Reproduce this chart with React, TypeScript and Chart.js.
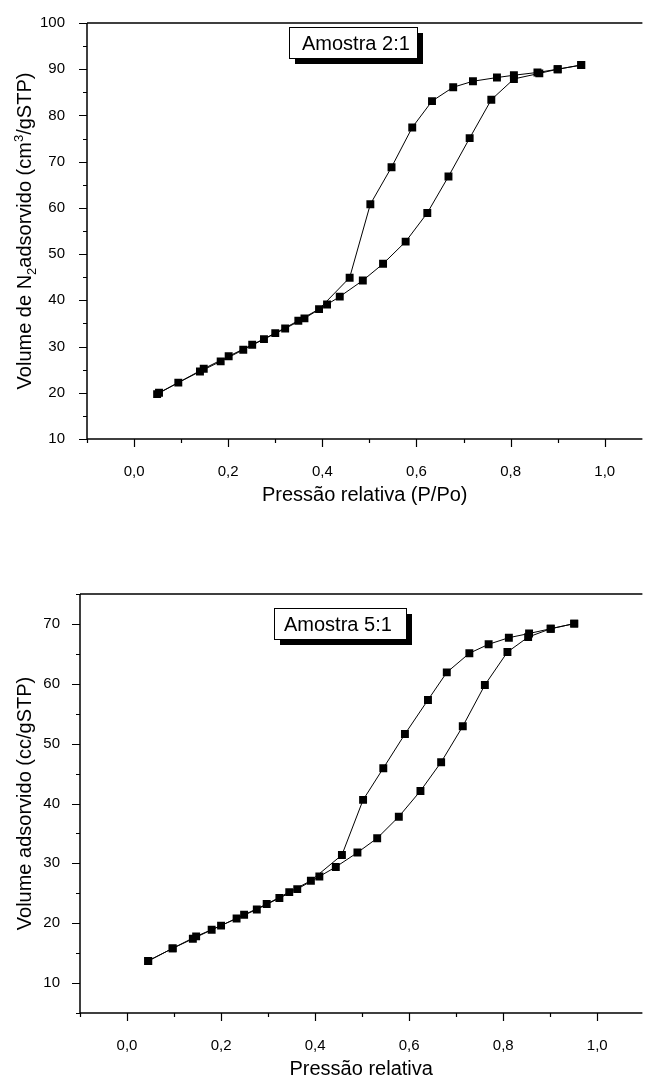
import React, { useEffect, useRef } from 'react';
import { Chart, registerables } from 'chart.js';

Chart.register(...registerables);
Chart.defaults.font.family = '"Liberation Sans", Arial, sans-serif';
Chart.defaults.color = '#000';

// ---------- Data: Amostra 2:1 ----------
const pressaoAds21 = [0.053, 0.094, 0.140, 0.184, 0.232, 0.276, 0.321, 0.362, 0.410, 0.437, 0.486, 0.529, 0.577, 0.623, 0.668, 0.713, 0.759, 0.807, 0.861, 0.900, 0.950];
const volumeAds21 = [20.0, 22.2, 24.6, 26.8, 29.3, 31.6, 33.9, 36.1, 39.1, 40.8, 44.3, 47.9, 52.7, 58.9, 66.8, 75.1, 83.4, 87.9, 89.1, 90.0, 90.9];
const pressaoDes21 = [0.950, 0.900, 0.857, 0.807, 0.771, 0.720, 0.678, 0.633, 0.591, 0.547, 0.502, 0.458, 0.393, 0.349, 0.300, 0.251, 0.201, 0.148, 0.049];
const volumeDes21 = [90.9, 90.0, 89.3, 88.7, 88.2, 87.4, 86.1, 83.1, 77.4, 68.8, 60.8, 44.9, 38.1, 35.6, 32.9, 30.4, 27.9, 25.2, 19.7];

// ---------- Data: Amostra 5:1 ----------
const pressaoAds51 = [0.045, 0.097, 0.140, 0.180, 0.233, 0.276, 0.324, 0.362, 0.409, 0.444, 0.490, 0.532, 0.578, 0.624, 0.668, 0.714, 0.761, 0.809, 0.853, 0.901, 0.951];
const volumeAds51 = [13.7, 15.8, 17.4, 18.9, 20.8, 22.3, 24.2, 25.7, 27.8, 29.4, 31.8, 34.2, 37.8, 42.1, 46.9, 52.9, 59.8, 65.3, 67.8, 69.2, 70.05];
const pressaoDes51 = [0.951, 0.901, 0.855, 0.812, 0.769, 0.728, 0.680, 0.640, 0.591, 0.545, 0.502, 0.457, 0.391, 0.345, 0.297, 0.249, 0.200, 0.147, 0.097, 0.045];
const volumeDes51 = [70.05, 69.2, 68.4, 67.7, 66.6, 65.1, 61.9, 57.3, 51.6, 45.9, 40.6, 31.4, 27.1, 25.2, 23.2, 21.4, 19.6, 17.8, 15.8, 13.7];

// ---------- Axes / labels ----------
const xTicks = [-0.1, 0, 0.1, 0.2, 0.3, 0.4, 0.5, 0.6, 0.7, 0.8, 0.9, 1.0];
const yTicks21 = [10, 15, 20, 25, 30, 35, 40, 45, 50, 55, 60, 65, 70, 75, 80, 85, 90, 95, 100];
const yTicks51 = [5, 10, 15, 20, 25, 30, 35, 40, 45, 50, 55, 60, 65, 70, 75];
const legend21 = 'Amostra 2:1';
const legend51 = 'Amostra 5:1';
const xTitle21 = 'Pressão relativa (P/Po)';
const xTitle51 = 'Pressão relativa';
type Seg = { t: string; sub?: boolean; sup?: boolean };
const yTitle21: Seg[] = [
  { t: 'Volume de N' },
  { t: '2', sub: true },
  { t: 'adsorvido (cm' },
  { t: '3', sup: true },
  { t: '/gSTP)' },
];
const yTitle51: Seg[] = [{ t: 'Volume adsorvido (cc/gSTP)' }];

const FONT = '"Liberation Sans", Arial, sans-serif';

const isMajorX = (v: number) => Math.round(v * 10) % 2 === 0;
const isMajorY = (v: number) => Math.round(v) % 10 === 0;

interface PanelCfg {
  width: number;
  height: number;
  top: number;
  padTop: number;
  yAxisWidth: number;
  xAxisHeight: number;
  xMin: number;
  xMax: number;
  yMin: number;
  yMax: number;
  yTicks: number[];
  yPad: number;
  ads: [number[], number[]];
  des: [number[], number[]];
  legend: string;
  legendBox: { x: number; y: number; w: number; h: number; tx: number };
  xTitle: string;
  yTitle: Seg[];
}

function makeDecor(cfg: PanelCfg) {
  return {
    id: 'decor',
    afterDraw(chart: any) {
      const { ctx, chartArea: ca, scales } = chart;
      const xs = scales.x;
      const ys = scales.y;
      ctx.save();
      ctx.strokeStyle = '#000';
      ctx.lineWidth = 1.5;
      ctx.beginPath();
      ctx.moveTo(ca.left, ca.top);
      ctx.lineTo(ca.left, ca.bottom);
      ctx.lineTo(ca.right, ca.bottom);
      ctx.moveTo(ca.left, ca.top);
      ctx.lineTo(ca.right, ca.top);
      ctx.stroke();

      ctx.lineWidth = 1.2;
      ctx.beginPath();
      for (const v of xTicks) {
        const px = Math.round(xs.getPixelForValue(v)) + 0.5;
        ctx.moveTo(px, ca.bottom);
        ctx.lineTo(px, ca.bottom + (isMajorX(v) ? 8 : 4));
      }
      for (const v of cfg.yTicks) {
        const py = Math.round(ys.getPixelForValue(v)) + 0.5;
        ctx.moveTo(ca.left, py);
        ctx.lineTo(ca.left - (isMajorY(v) ? 8 : 4), py);
      }
      ctx.stroke();

      // x title
      ctx.fillStyle = '#000';
      ctx.font = `20px ${FONT}`;
      ctx.textAlign = 'center';
      ctx.textBaseline = 'alphabetic';
      ctx.fillText(cfg.xTitle, (ca.left + ca.right) / 2, ca.bottom + 62);

      // y title (rotated, with sub/superscripts)
      const size = 20;
      const small = 13;
      ctx.save();
      ctx.translate(31, (ca.top + ca.bottom) / 2);
      ctx.rotate(-Math.PI / 2);
      ctx.textAlign = 'left';
      let total = 0;
      for (const s of cfg.yTitle) {
        ctx.font = `${s.sub || s.sup ? small : size}px ${FONT}`;
        total += ctx.measureText(s.t).width;
      }
      let cx = -total / 2;
      for (const s of cfg.yTitle) {
        ctx.font = `${s.sub || s.sup ? small : size}px ${FONT}`;
        const dy = s.sub ? 5 : s.sup ? -8 : 0;
        ctx.fillText(s.t, cx, dy);
        cx += ctx.measureText(s.t).width;
      }
      ctx.restore();

      // legend box with shadow
      const b = cfg.legendBox;
      ctx.fillStyle = '#000';
      ctx.fillRect(b.x + 6, b.y + 6, b.w, b.h);
      ctx.fillStyle = '#fff';
      ctx.fillRect(b.x, b.y, b.w, b.h);
      ctx.lineWidth = 1;
      ctx.strokeStyle = '#000';
      ctx.strokeRect(b.x + 0.5, b.y + 0.5, b.w, b.h);
      ctx.fillStyle = '#000';
      ctx.font = `20px ${FONT}`;
      ctx.textAlign = 'left';
      ctx.fillText(cfg.legend, b.tx, b.y + 22.6);
      ctx.restore();
    },
  };
}

function Panel({ cfg }: { cfg: PanelCfg }) {
  const ref = useRef<HTMLCanvasElement | null>(null);
  useEffect(() => {
    if (!ref.current) return;
    const ds = (p: number[], v: number[]) => ({
      data: p.map((x, i) => ({ x, y: v[i] })),
      showLine: true,
      borderColor: '#000',
      borderWidth: 1,
      pointStyle: 'rect' as const,
      pointRadius: 5.6,
      pointBackgroundColor: '#000',
      pointBorderColor: '#000',
      pointBorderWidth: 0,
      tension: 0,
    });
    const chart = new Chart(ref.current, {
      type: 'scatter',
      data: { datasets: [ds(cfg.des[0], cfg.des[1]), ds(cfg.ads[0], cfg.ads[1])] },
      options: {
        animation: false,
        responsive: false,
        devicePixelRatio: 1,
        layout: { padding: { top: cfg.padTop, left: 0, right: 0, bottom: 0 } },
        plugins: { legend: { display: false }, tooltip: { enabled: false } },
        scales: {
          x: {
            type: 'linear',
            min: cfg.xMin,
            max: cfg.xMax,
            grid: { display: false },
            border: { display: false },
            afterBuildTicks: (s: any) => {
              s.ticks = xTicks.map((value) => ({ value }));
            },
            afterFit: (s: any) => {
              s.height = cfg.xAxisHeight;
            },
            ticks: {
              autoSkip: false,
              maxRotation: 0,
              padding: 16,
              color: '#000',
              font: { size: 15 },
              callback: (v: any) => (isMajorX(Number(v)) ? Number(v).toFixed(1).replace('.', ',') : ''),
            },
          },
          y: {
            type: 'linear',
            min: cfg.yMin,
            max: cfg.yMax,
            grid: { display: false },
            border: { display: false },
            afterBuildTicks: (s: any) => {
              s.ticks = cfg.yTicks.map((value) => ({ value }));
            },
            afterFit: (s: any) => {
              s.width = cfg.yAxisWidth;
            },
            ticks: {
              autoSkip: false,
              padding: cfg.yPad,
              color: '#000',
              font: { size: 15 },
              callback: (v: any) => (isMajorY(Number(v)) ? String(v) : ''),
            },
          },
        },
      },
      plugins: [makeDecor(cfg)],
    } as any);
    return () => chart.destroy();
  }, [cfg]);
  return (
    <canvas
      ref={ref}
      width={cfg.width}
      height={cfg.height}
      style={{ position: 'absolute', left: 0, top: cfg.top, width: cfg.width, height: cfg.height }}
    />
  );
}

const cfg21: PanelCfg = {
  width: 648,
  height: 530,
  top: 0,
  padTop: 20,
  yAxisWidth: 87,
  xAxisHeight: 91,
  xMin: -0.1,
  xMax: 1.08,
  yMin: 10,
  yMax: 100,
  yTicks: yTicks21,
  yPad: 14,
  ads: [pressaoAds21, volumeAds21],
  des: [pressaoDes21, volumeDes21],
  legend: legend21,
  legendBox: { x: 289, y: 27, w: 128, h: 31, tx: 302 },
  xTitle: xTitle21,
  yTitle: yTitle21,
};

const cfg51: PanelCfg = {
  width: 648,
  height: 517,
  top: 560,
  padTop: 34,
  yAxisWidth: 80,
  xAxisHeight: 64,
  xMin: -0.1,
  xMax: 1.096,
  yMin: 5,
  yMax: 75,
  yTicks: yTicks51,
  yPad: 12,
  ads: [pressaoAds51, volumeAds51],
  des: [pressaoDes51, volumeDes51],
  legend: legend51,
  legendBox: { x: 274, y: 48, w: 132, h: 31, tx: 284 },
  xTitle: xTitle51,
  yTitle: yTitle51,
};

export default function App() {
  return (
    <div style={{ position: 'absolute', left: 0, top: 0, width: 648, height: 1077, background: '#fff', overflow: 'hidden' }}>
      <Panel cfg={cfg21} />
      <Panel cfg={cfg51} />
    </div>
  );
}
